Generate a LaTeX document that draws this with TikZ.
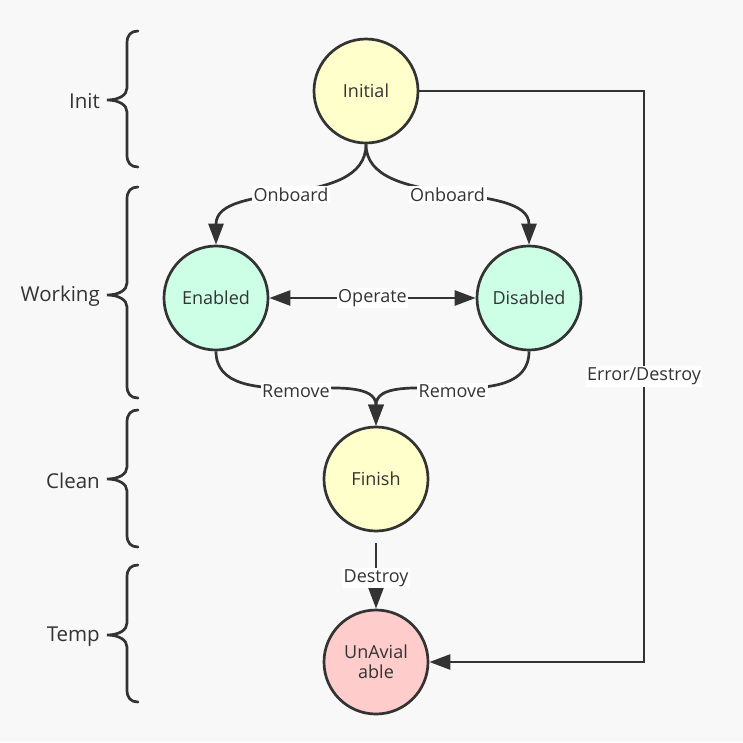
\documentclass[tikz,border=0pt]{standalone}
\usepackage{fontspec}
\setmainfont{Open Sans}
\usetikzlibrary{arrows.meta}
\definecolor{bgc}{HTML}{F8F8F8}
\definecolor{ink}{HTML}{333333}
\definecolor{yel}{HTML}{FFFFCC}
\definecolor{mint}{HTML}{CCFFE6}
\definecolor{pinkc}{HTML}{FFCCCC}
\newcommand\dobrace[3]{%
  \draw[bracestyle] (138,#1) .. controls (131,#1) and (127,#1+4) .. (127,#1+12)
    -- (127,#2-12) .. controls (127,#2-5) and (119,#2) .. (107,#2)
    .. controls (119,#2) and (127,#2+5) .. (127,#2+12)
    -- (127,#3-12) .. controls (127,#3-4) and (131,#3) .. (138,#3);}
\tikzset{
  state/.style={circle, draw=ink, line width=2.7pt, minimum size=104pt, inner sep=0pt,
    text=ink, font=\fontsize{18}{20}\selectfont, align=center},
  edge/.style={draw=ink, line width=2.7pt, -{Triangle[length=21pt,width=15pt]}},
  lbl/.style={fill=white, text=ink, inner sep=1.5pt, font=\fontsize{18}{20}\selectfont},
  phase/.style={text=ink, anchor=east, inner sep=0pt, font=\fontsize{20.5}{22}\selectfont},
  bracestyle/.style={draw=ink, line width=2.7pt, line cap=round}
}
\begin{document}
\begin{tikzpicture}[x=1pt,y=-1pt]
\fill[bgc] (0,0) rectangle (743,742);
\useasboundingbox (0,0) rectangle (743,742);

% braces and phase labels
\dobrace{31}{100}{167}
\dobrace{187}{295}{398}
\dobrace{410}{479}{547}
\dobrace{565}{635}{702}
\node[phase] (pinit) at (100,101) {Init};
\node[phase] (pwork) at (100,296) {Working};
\node[phase] (pclean) at (100,481) {Clean};
\node[phase] (ptemp) at (100,637) {Temp};

% states
\node[state, fill=yel] (ini) at (366,91) {Initial};
\node[state, fill=mint] (ena) at (216,298) {Enabled};
\node[state, fill=mint] (dis) at (529,298) {Disabled};
\node[state, fill=yel] (fin) at (376,479) {Finish};
\node[state, fill=pinkc] (una) at (376,662) {UnAvial\\able};

\coordinate (c1) at (644,91);
\coordinate (c2) at (644,662);

% edges
\draw[edge] (ini.south) .. controls +(0,66) and +(0,-65) .. (ena.north) node[lbl,pos=0.5] {Onboard};
\draw[edge] (ini.south) .. controls +(0,66) and +(0,-65) .. (dis.north) node[lbl,pos=0.5] {Onboard};
\draw[edge,{Triangle[length=21pt,width=15pt]}-{Triangle[length=21pt,width=15pt]}] (ena) -- (dis) node[lbl,midway] {Operate};
\draw[edge] (ena.south) .. controls +(0,68) and +(0,-62) .. (fin.north) node[lbl,pos=0.5] {Remove};
\draw[edge] (dis.south) .. controls +(0,68) and +(0,-62) .. (fin.north) node[lbl,pos=0.5] {Remove};
\draw[edge, shorten <=11pt] (fin.south) -- (una.north) node[lbl,pos=0.6] {Destroy};
\draw[edge] (ini.east) -- (c1) -- (c2) node[lbl,pos=0.5] {Error/Destroy} -- (una.east);
\end{tikzpicture}
\end{document}
